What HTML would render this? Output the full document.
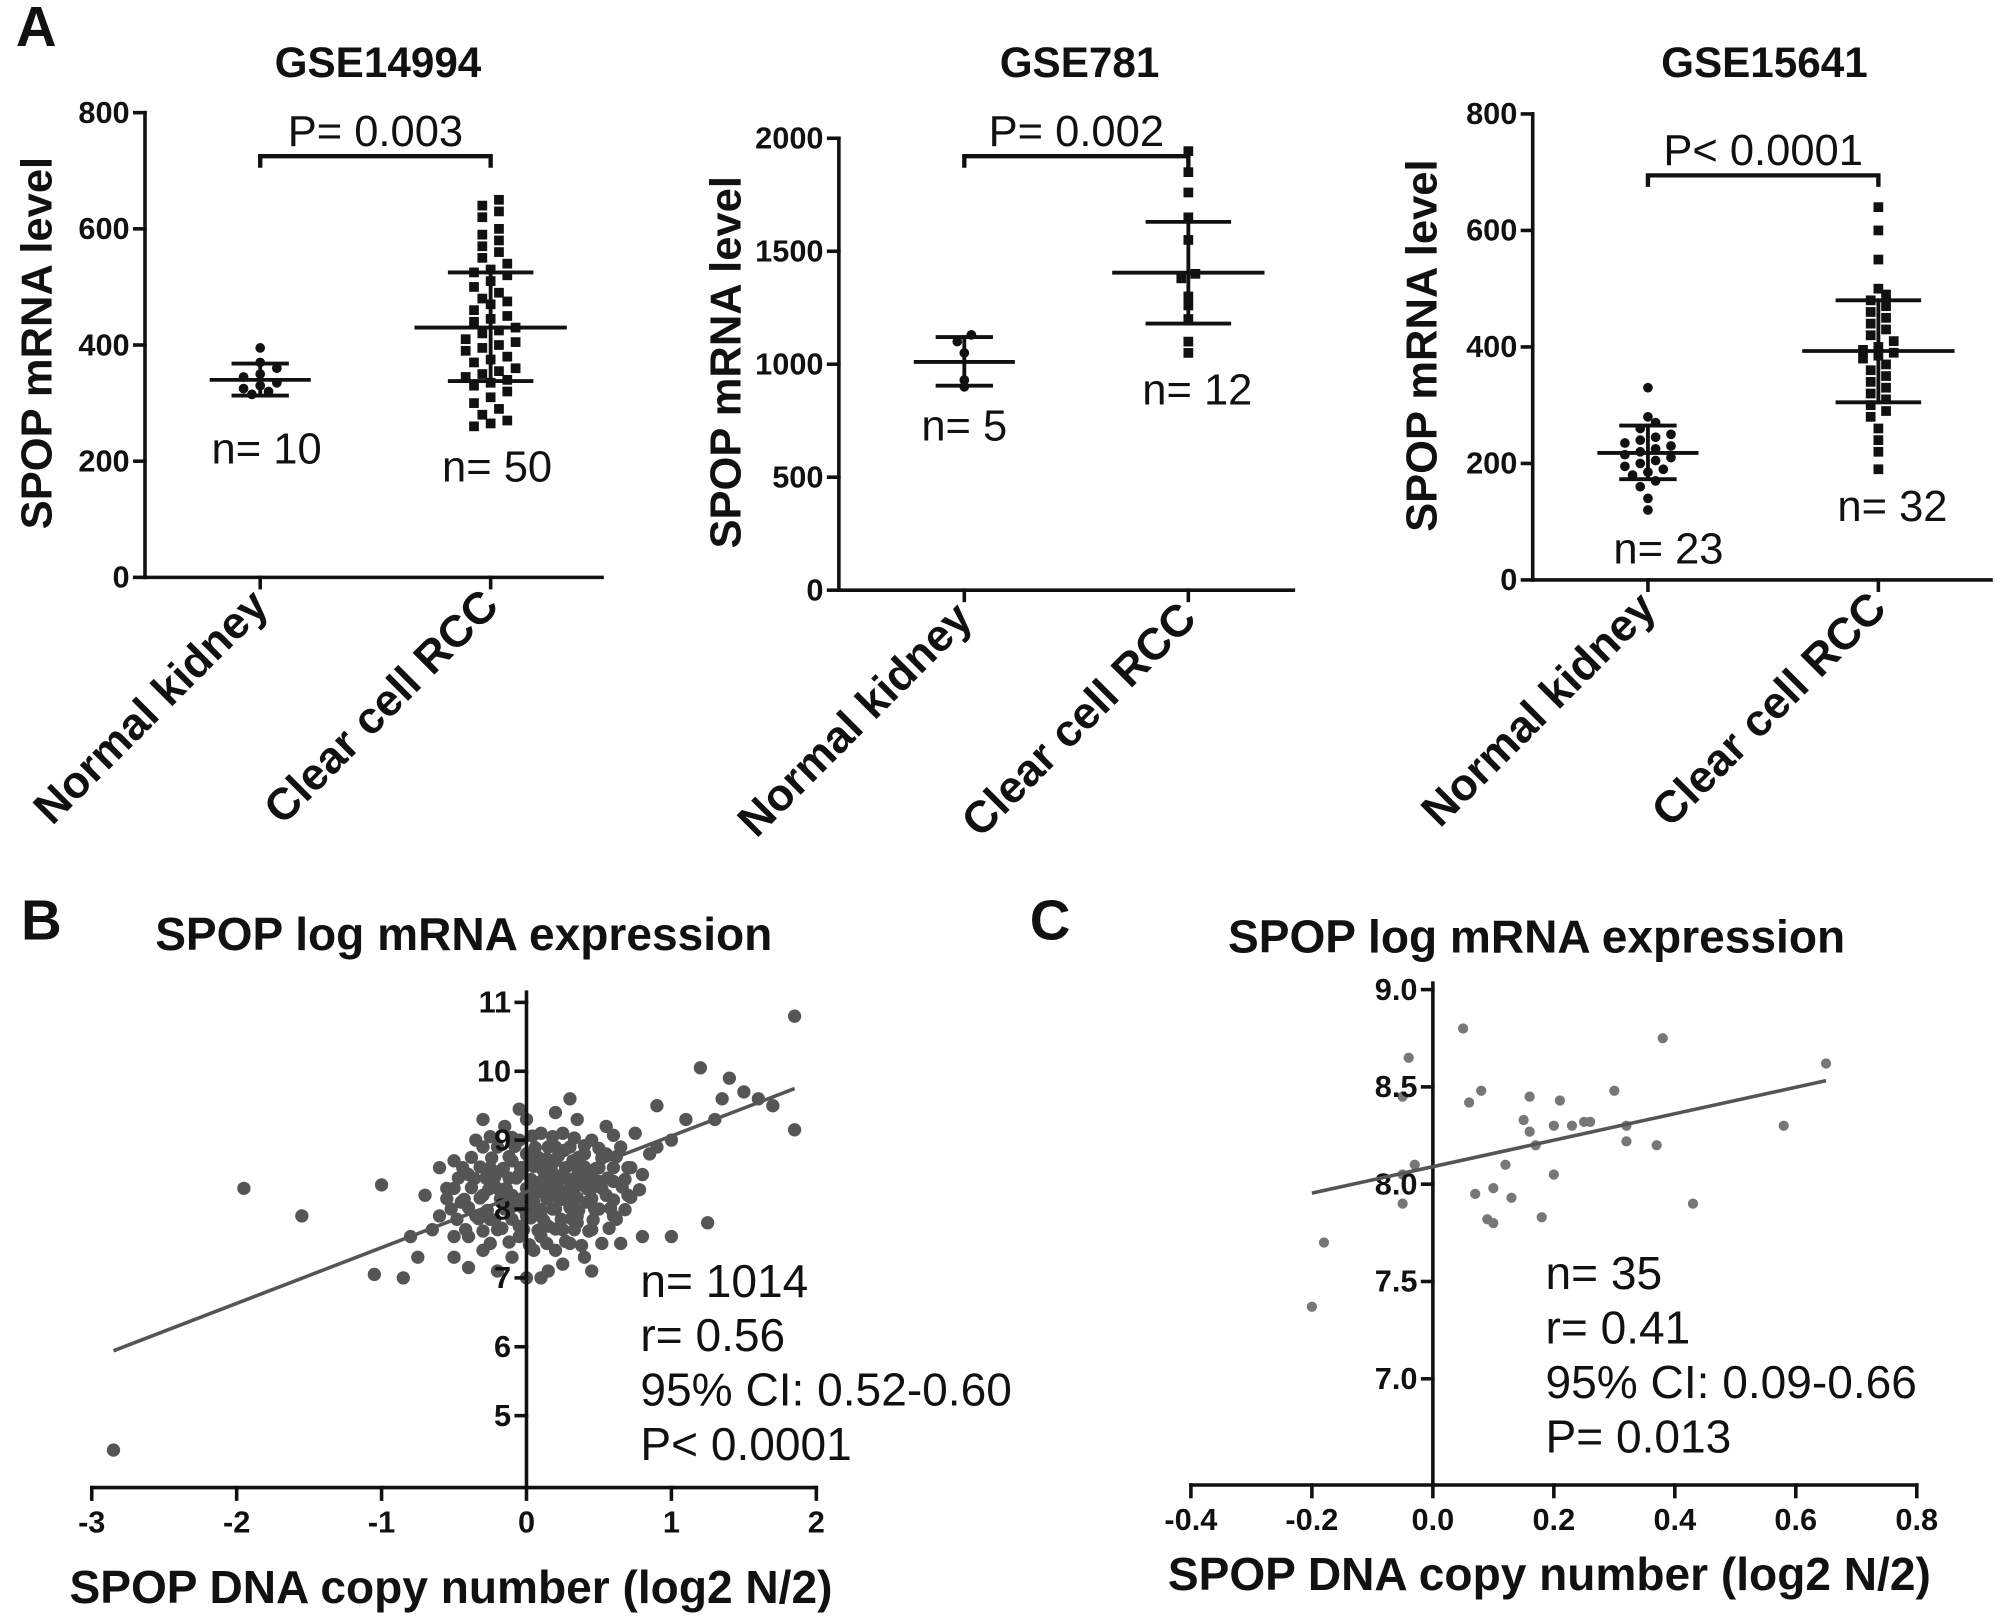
<!DOCTYPE html>
<html><head><meta charset="utf-8">
<style>
html,body{margin:0;padding:0;background:#fff;}
svg{display:block;}
text{font-family:"Liberation Sans",Arial,sans-serif;fill:#111;}
.b{font-weight:bold;}
</style></head>
<body>
<svg id="fig" width="2008" height="1622" viewBox="0 0 1568 1267" xmlns="http://www.w3.org/2000/svg">
<g id="root"></g>
</svg>
<script>
// ---------- Data ----------
const a1Normal = [395,370,360,350,345,335,330,325,320,315];
const a1Clear = [650,640,630,620,600,590,580,570,560,550,540,530,525,520,510,500,490,480,475,470,460,450,445,440,430,425,420,410,405,400,395,390,380,375,370,360,355,350,345,340,335,330,320,310,300,290,280,270,265,260];
const a1Stats = {normal:[340,368,313], clear:[430,525,338]};
const a1Ticks = [0,200,400,600,800];

const a2Normal = [1130,1100,1050,930,900];
const a2Clear = [1943,1850,1760,1650,1550,1400,1380,1300,1260,1200,1100,1050];
const a2Stats = {normal:[1010,1120,905], clear:[1405,1630,1180]};
const a2Ticks = [0,500,1000,1500,2000];

const a3Normal = [330,280,270,260,250,245,240,235,230,225,220,215,210,205,200,195,190,185,180,170,160,140,120];
const a3Clear = [640,600,550,500,490,480,470,460,450,440,430,420,410,400,395,390,385,380,370,360,350,340,330,320,310,300,290,280,260,240,220,190];
const a3Stats = {normal:[218,265,173], clear:[393,480,305]};
const a3Ticks = [0,200,400,600,800];

const bX = [0.0,0.1,0.2,-0.1,0.05,0.15,0.25,0.3,-0.05,0.1,0.2,0.35,0.4,-0.2,-0.15,0.0,0.1,0.2,0.3,0.45,0.5,0.4,0.3,0.15,0.0,-0.1,-0.25,-0.3,-0.35,-0.2,-0.05,0.1,0.25,0.35,0.5,0.6,0.55,0.45,0.25,0.1,-0.05,-0.2,-0.4,-0.45,-0.4,-0.3,-0.1,0.05,0.2,0.3,0.45,0.6,0.7,0.7,0.65,0.55,0.35,0.2,0.0,-0.15,-0.35,-0.5,-0.55,-0.6,-0.5,0.8,0.85,0.9,1.0,0.75,0.15,0.25,-0.2,0.4,-0.6,-0.7,-0.65,0.05,0.12,0.22,-0.08,0.28,0.38,0.18,-0.12,0.08,0.32,-0.02,0.42,0.5,-0.28,-0.18,0.6,0.55,0.08,0.26,-0.05,0.15,0.35,-0.25,
-2.85,-1.95,-1.55,-1.0,-1.05,-0.85,-0.8,-0.75,1.0,1.25,1.35,1.4,1.2,1.6,1.85,1.85,1.7,1.5,1.1,0.9,1.3,-0.3,-0.05,0.3,0.1,0.0,0.45,-0.5,-0.4,0.65,0.8];
const bY = [8.3,8.4,8.3,8.2,8.1,8.2,8.5,8.4,8.5,8.6,8.7,8.6,8.5,8.3,8.0,7.9,7.9,8.0,8.1,8.3,8.6,8.8,8.9,8.9,8.8,8.7,8.6,8.2,7.9,7.7,7.6,7.6,7.7,7.9,8.0,8.4,8.8,9.0,9.1,9.1,9.0,8.9,8.5,8.1,7.6,7.4,7.3,7.4,7.4,7.5,7.7,7.9,8.2,8.6,8.9,9.2,9.3,9.4,9.3,9.2,9.0,8.7,8.3,7.9,7.6,8.5,8.8,8.9,9.0,9.1,7.1,7.2,7.1,7.3,8.6,8.2,7.7,8.0,8.55,8.15,8.05,8.25,8.35,8.45,8.45,8.25,8.7,8.6,8.1,8.4,8.45,8.55,8.6,8.2,8.75,8.85,7.75,7.75,7.8,7.85,
4.5,8.3,7.9,8.35,7.05,7.0,7.6,7.3,7.6,7.8,9.6,9.9,10.05,9.6,10.8,9.15,9.5,9.7,9.3,9.5,9.3,9.3,9.45,9.6,7.0,7.0,7.1,7.3,7.15,7.5,7.6];
const bCoreX = [-0.25,-0.12,0.02,0.14,0.27,0.38,0.52,
 -0.42,-0.3,-0.17,-0.02,0.08,0.2,0.33,0.43,0.57,
 -0.48,-0.33,-0.22,-0.1,0.03,0.12,0.24,0.31,0.46,0.62,
 -0.52,-0.4,-0.27,-0.12,-0.02,0.1,0.18,0.3,0.36,0.47,0.58,0.68,
 -0.55,-0.43,-0.32,-0.18,-0.05,0.02,0.14,0.25,0.35,0.45,0.6,0.72,
 -0.5,-0.38,-0.26,-0.14,0.04,0.13,0.22,0.33,0.42,0.52,0.66,0.78,
 -0.47,-0.36,-0.22,-0.07,0.03,0.15,0.24,0.36,0.45,0.56,0.68,
 -0.44,-0.32,-0.16,-0.04,0.05,0.17,0.27,0.4,0.48,0.72,
 -0.38,-0.24,-0.12,0.02,0.14,0.22,0.36,0.52,0.62,
 -0.3,-0.08,0.06,0.2,0.4,0.5,
 -0.25,-0.1,0.04,0.18,0.33,0.6];
const bCoreY = [7.5,7.52,7.48,7.5,7.53,7.47,7.5,
 7.7,7.68,7.72,7.7,7.69,7.71,7.7,7.68,7.72,
 7.85,7.86,7.84,7.85,7.87,7.83,7.85,7.86,7.84,7.85,
 8.0,8.02,7.98,8.0,8.01,7.99,8.0,8.02,7.98,8.0,8.01,7.99,
 8.15,8.14,8.16,8.15,8.13,8.17,8.15,8.14,8.16,8.15,8.13,8.17,
 8.3,8.31,8.29,8.3,8.32,8.28,8.3,8.31,8.29,8.3,8.32,8.28,
 8.45,8.44,8.46,8.45,8.43,8.47,8.45,8.44,8.46,8.45,8.43,
 8.6,8.61,8.59,8.6,8.62,8.58,8.6,8.61,8.59,8.6,
 8.75,8.74,8.76,8.75,8.73,8.77,8.75,8.74,8.76,
 8.9,8.91,8.89,8.9,8.92,8.88,
 9.05,9.04,9.06,9.05,9.03,9.07];
const bLine = [-2.85,1.85];
const bFit = [0.81,8.25];
const bXTicks = [-3,-2,-1,0,1,2];
const bYTicks = [5,6,7,8,9,10,11];

const cX = [-0.2,-0.18,-0.05,-0.04,-0.03,-0.05,0.05,0.06,0.08,0.07,0.09,0.1,0.1,0.12,0.13,0.15,0.16,0.16,0.17,0.18,0.2,0.2,0.21,0.23,0.25,0.26,0.3,0.32,0.32,0.37,0.38,0.43,0.58,0.65,-0.05];
const cY = [7.37,7.7,8.45,8.65,8.1,8.05,8.8,8.42,8.48,7.95,7.82,7.8,7.98,8.1,7.93,8.33,8.27,8.45,8.2,7.83,8.05,8.3,8.43,8.3,8.32,8.32,8.48,8.3,8.22,8.2,8.75,7.9,8.3,8.62,7.9];
const cLine = [-0.2,0.65];
const cFit = [0.68,8.09];
const cXTicks = [-0.4,-0.2,0.0,0.2,0.4,0.6,0.8];
const cYTicks = [7.0,7.5,8.0,8.5,9.0];

// ---------- Helpers ----------
const NS="http://www.w3.org/2000/svg";
const root=document.getElementById('root');
function mk(tag,attrs,parent,txt){const e=document.createElementNS(NS,tag);for(const k in attrs)e.setAttribute(k,attrs[k]);if(txt!==undefined)e.textContent=txt;(parent||root).appendChild(e);return e;}
function line(x1,y1,x2,y2,w,p,c){return mk('line',{x1,y1,x2,y2,stroke:c||'#111','stroke-width':w||2.6,'stroke-linecap':'square'},p);}
function txt(x,y,s,size,p,opts){opts=opts||{};const a={x,y,'font-size':size,'text-anchor':opts.anchor||'middle'};if(opts.bold)a['class']='b';if(opts.tr)a.transform=opts.tr;return mk('text',a,p,s);}

// ---------- Panel A ----------
function dotPanel(cfg){
  const g=mk('g',{});
  
  
  const ys=v=>cfg.y0-(v/cfg.ymax)*(cfg.y0-cfg.y1);
  const ax=line(cfg.ax,cfg.y1,cfg.ax,cfg.y0,2.8,g);
  
  const xa=line(cfg.ax,cfg.y0,cfg.axEnd,cfg.y0,2.8,g);
  
  cfg.ticks.forEach(t=>{const y=ys(t);line(cfg.ax-8,y,cfg.ax,y,2.8,g);
    const tl=txt(cfg.ax-12,y+8,String(t),24,g,{anchor:'end',bold:true});
    });
  [cfg.c1,cfg.c2].forEach((cx,i)=>{line(cx,cfg.y0,cx,cfg.y0+8,2.8,g);
    const l=txt(cx+8,cfg.y0+24,i==0?'Normal kidney':'Clear cell RCC',35,g,{anchor:'end',bold:true,tr:`rotate(-45 ${cx+8} ${cfg.y0+24})`});
    });
  const t=txt(cfg.titleX,cfg.titleY,cfg.title,33,g,{bold:true});
  
  const yt=txt(0,0,'SPOP mRNA level',34,g,{bold:true,tr:`translate(${cfg.ytX} ${cfg.ytY}) rotate(-90)`});
  
  function swarm(vals,cx,shape,sp,hs){
    const sorted=[...vals].sort((a,b)=>a-b);const bins={};
    sorted.forEach(v=>{const y=ys(v);const k=Math.round(y/sp);(bins[k]=bins[k]||[]).push(y);});
    Object.values(bins).forEach(arr=>{arr.forEach((y,i)=>{const n=arr.length;const x=cx+(i-(n-1)/2)*hs;
      let e;if(shape=='c'){e=mk('circle',{cx:x,cy:y,r:3.8,fill:'#111'},g);}else{e=mk('rect',{x:x-3.8,y:y-3.8,width:7.6,height:7.6,fill:'#111'},g);}
      });});
  }
  swarm(cfg.normal,cfg.c1,'c',cfg.sp,cfg.hs);swarm(cfg.clear,cfg.c2,'s',cfg.sp,cfg.hs);
  [[cfg.stats.normal,cfg.c1,38],[cfg.stats.clear,cfg.c2,58]].forEach(([s,cx,hw])=>{
    const m=line(cx-hw,ys(s[0]),cx+hw,ys(s[0]),3,g);
    line(cx,ys(s[1]),cx,ys(s[2]),3,g);
    line(cx-hw*0.55,ys(s[1]),cx+hw*0.55,ys(s[1]),3,g);line(cx-hw*0.55,ys(s[2]),cx+hw*0.55,ys(s[2]),3,g);
  });
  const br=mk('path',{d:`M${cfg.c1} ${cfg.brY+9} V${cfg.brY} H${cfg.c2} V${cfg.brY+9}`,fill:'none',stroke:'#111','stroke-width':3.4},g);
  
  const p=txt((cfg.c1+cfg.c2)/2,cfg.brY-8,cfg.p,34,g);
  cfg.nl.forEach(([x,y,s])=>{const n=txt(x,y,s,34,g);});
}
dotPanel({name:'panel-a-gse14994',ax:113,axEnd:470,y0:451,y1:88,ymax:800,ticks:a1Ticks,c1:203,c2:383,normal:a1Normal,clear:a1Clear,stats:a1Stats,sp:10,hs:13,
  title:'GSE14994',titleX:295,titleY:60,ytX:40,ytY:268,brY:122,p:'P= 0.003',nl:[[208,362,'n= 10'],[388,376,'n= 50']]});
dotPanel({name:'panel-a-gse781',ax:655,axEnd:1010,y0:461,y1:108,ymax:2000,ticks:a2Ticks,c1:753,c2:928,normal:a2Normal,clear:a2Clear,stats:a2Stats,sp:8,hs:11,
  title:'GSE781',titleX:843,titleY:60,ytX:578,ytY:283,brY:122,p:'P= 0.002',nl:[[753,344,'n= 5'],[935,316,'n= 12']]});
dotPanel({name:'panel-a-gse15641',ax:1197,axEnd:1555,y0:453,y1:89,ymax:800,ticks:a3Ticks,c1:1287,c2:1467,normal:a3Normal,clear:a3Clear,stats:a3Stats,sp:9,hs:12,
  title:'GSE15641',titleX:1378,titleY:60,ytX:1122,ytY:270,brY:137,p:'P< 0.0001',nl:[[1303,440,'n= 23'],[1478,407,'n= 32']]});

// ---------- Scatter panels ----------
function scatter(cfg){
  const g=mk('g',{});
  
  
  const xs=v=>cfg.xp0+(v-cfg.xv0)*cfg.xk;
  const ys=v=>cfg.yp0-(v-cfg.yv0)*cfg.yk;
  cfg.X.forEach((x,i)=>{const c=mk('circle',{cx:xs(x),cy:ys(cfg.Y[i]),r:cfg.r,fill:cfg.col},g);
    });
  const ya=line(cfg.yAxX,cfg.yTop,cfg.yAxX,cfg.xAxY,2.8,g);
  const xa=line(xs(cfg.xTicks[0]),cfg.xAxY,xs(cfg.xTicks[cfg.xTicks.length-1]),cfg.xAxY,2.8,g);
  cfg.xTicks.forEach(t=>{const x=xs(t);line(x,cfg.xAxY,x,cfg.xAxY+9,2.8,g);
    const l=txt(x,cfg.xAxY+35,cfg.fmtX(t),24,g,{bold:true});});
  cfg.yTicks.forEach(t=>{const y=ys(t);line(cfg.yAxX-8,y,cfg.yAxX,y,2.8,g);
    const l=txt(cfg.yAxX-12,y+8,cfg.fmtY(t),24,g,{anchor:'end',bold:true});});
  const rl=line(xs(cfg.line[0]),ys(cfg.fit[1]+cfg.fit[0]*cfg.line[0]),xs(cfg.line[1]),ys(cfg.fit[1]+cfg.fit[0]*cfg.line[1]),2.8,g,'#555');
  rl.setAttribute('stroke-linecap','butt');
  
  const t=txt(cfg.tX,cfg.tY,'SPOP log mRNA expression',36,g,{bold:true});
  const xt=txt(cfg.xtX,cfg.xtY,'SPOP DNA copy number (log2 N/2)',36,g,{bold:true});
  cfg.stats.forEach((s,i)=>{const l=txt(cfg.sX,cfg.sY+i*42.5,s,36,g,{anchor:'start'});});
}
scatter({name:'panel-b-scatter',xp0:411,xv0:0,xk:113.2,yp0:783,yv0:11,yk:53.8,yAxX:411,yTop:775,xAxY:1162,
  xTicks:bXTicks,yTicks:bYTicks,fmtX:t=>String(t),fmtY:t=>String(t),X:bX.concat(bCoreX),Y:bY.concat(bCoreY),r:5.2,col:'#555',line:bLine,fit:bFit,
  tX:362,tY:742,xtX:352,xtY:1252,sX:500,sY:1013,stats:['n= 1014','r= 0.56','95% CI: 0.52-0.60','P< 0.0001']});
scatter({name:'panel-c-scatter',xp0:1119,xv0:0,xk:472.5,yp0:773,yv0:9,yk:152,yAxX:1119,yTop:768,xAxY:1160,
  xTicks:cXTicks,yTicks:cYTicks,fmtX:t=>t.toFixed(1),fmtY:t=>t.toFixed(1),X:cX,Y:cY,r:4,col:'#777',line:cLine,fit:cFit,
  tX:1200,tY:744,xtX:1210,xtY:1242,sX:1207,sY:1007,stats:['n= 35','r= 0.41','95% CI: 0.09-0.66','P= 0.013']});

[['A',28,36],['B',32,734],['C',820,734]].forEach(([s,x,y])=>{const l=txt(x,y,s,44,root,{bold:true});
  });
</script>
</body></html>
